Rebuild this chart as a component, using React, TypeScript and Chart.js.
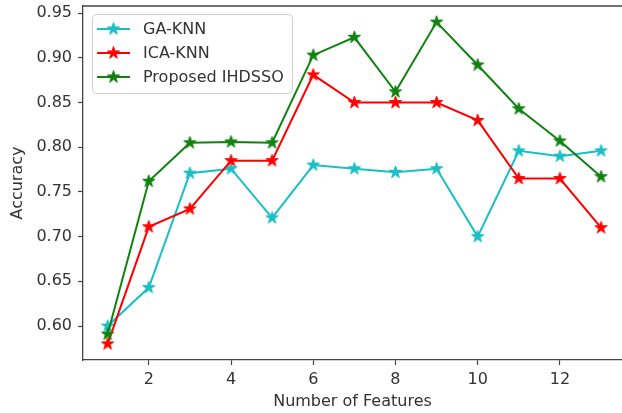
import React, { useEffect, useRef } from 'react';
import { Chart, registerables } from 'chart.js';

Chart.register(...registerables);

const features = [1, 2, 3, 4, 5, 6, 7, 8, 9, 10, 11, 12, 13];
const gaKnn = [0.600, 0.643, 0.771, 0.776, 0.721, 0.780, 0.776, 0.772, 0.776, 0.700, 0.796, 0.790, 0.796];
const icaKnn = [0.580, 0.711, 0.731, 0.785, 0.785, 0.881, 0.850, 0.850, 0.850, 0.830, 0.765, 0.765, 0.710];
const ihdsso = [0.591, 0.762, 0.805, 0.806, 0.805, 0.903, 0.923, 0.862, 0.940, 0.892, 0.843, 0.807, 0.767];
const seriesNames = ['GA-KNN', 'ICA-KNN', 'Proposed IHDSSO'];
const seriesColors = ['#19bfc4', '#ff0000', '#0f820f'];
const xTicks = [2, 4, 6, 8, 10, 12];
const yTicks = [0.60, 0.65, 0.70, 0.75, 0.80, 0.85, 0.90, 0.95];
const xTitle = 'Number of Features';
const yTitle = 'Accuracy';

const FONT = "'DejaVu Sans', sans-serif";
const TEXT = '#333333';
const SPINE = '#444444';

function makeStar(color: string): HTMLCanvasElement {
  const s = 15;
  const c = document.createElement('canvas');
  c.width = s;
  c.height = s;
  const ctx = c.getContext('2d')!;
  const cx = s / 2, cy = s / 2;
  const R = 6.5, r = R * 0.382;
  ctx.beginPath();
  for (let i = 0; i < 10; i++) {
    const ang = -Math.PI / 2 + (i * Math.PI) / 5;
    const rad = i % 2 === 0 ? R : r;
    ctx.lineTo(cx + rad * Math.cos(ang), cy + rad * Math.sin(ang));
  }
  ctx.closePath();
  ctx.fillStyle = color;
  ctx.fill();
  ctx.strokeStyle = color;
  ctx.lineWidth = 1;
  ctx.stroke();
  return c;
}

export default function App() {
  const ref = useRef<HTMLCanvasElement | null>(null);

  useEffect(() => {
    if (!ref.current) return;
    const stars = seriesColors.map(makeStar);
    const series = [gaKnn, icaKnn, ihdsso];

    const framePlugin = {
      id: 'frameLegend',
      afterDraw(chart: any) {
        const { ctx, chartArea: a } = chart;
        ctx.save();
        ctx.strokeStyle = SPINE;
        ctx.lineWidth = 1.3;
        ctx.beginPath();
        ctx.moveTo(a.left, a.top);
        ctx.lineTo(a.right, a.top);
        ctx.stroke();

        const lx = a.left + 9, ly = a.top + 8, lw = 200, lh = 79;
        ctx.beginPath();
        (ctx as any).roundRect(lx + 0.5, ly + 0.5, lw, lh, 4);
        ctx.fillStyle = 'rgba(255,255,255,0.85)';
        ctx.fill();
        ctx.strokeStyle = '#d0d0d0';
        ctx.lineWidth = 1;
        ctx.stroke();

        ctx.font = `16px ${FONT}`;
        ctx.textBaseline = 'middle';
        ctx.textAlign = 'left';
        seriesNames.forEach((name, i) => {
          const ry = ly + 15 + i * 24;
          ctx.strokeStyle = seriesColors[i];
          ctx.lineWidth = 2;
          ctx.beginPath();
          ctx.moveTo(lx + 5, ry);
          ctx.lineTo(lx + 38, ry);
          ctx.stroke();
          const st = stars[i];
          ctx.drawImage(st, lx + 21.5 - st.width / 2, ry - st.height / 2);
          ctx.fillStyle = TEXT;
          ctx.fillText(name, lx + 51, ry + 1);
        });
        ctx.restore();
      },
    };

    const chart = new Chart(ref.current, {
      type: 'line',
      data: {
        datasets: series.map((vals, i) => ({
          label: seriesNames[i],
          data: features.map((x, j) => ({ x, y: vals[j] })),
          borderColor: seriesColors[i],
          backgroundColor: seriesColors[i],
          borderWidth: 2,
          pointStyle: stars[i] as any,
          pointRadius: 6,
          fill: false,
          tension: 0,
          order: 2 - i,
        })),
      },
      options: {
        animation: false,
        responsive: false,
        devicePixelRatio: 1,
        layout: { autoPadding: false, padding: { top: 6, right: 0, bottom: 0, left: 0 } },
        plugins: {
          legend: { display: false },
          tooltip: { enabled: false },
        },
        scales: {
          x: {
            type: 'linear',
            min: 0.4,
            max: 13.51,
            afterBuildTicks: (s: any) => {
              s.ticks = xTicks.map((v) => ({ value: v }));
            },
            afterFit: (s: any) => {
              s.height = 53;
              s.paddingLeft = 0;
              s.paddingRight = 0;
            },
            grid: { drawOnChartArea: false, drawTicks: true, tickLength: 5, tickColor: SPINE, tickWidth: 1.2 },
            border: { display: true, color: SPINE, width: 1.3 },
            ticks: {
              font: { family: FONT, size: 16 },
              color: TEXT,
              padding: 5,
              maxRotation: 0,
              autoSkip: false,
              callback: (v: any) => String(v),
            },
            title: {
              display: true,
              text: xTitle,
              font: { family: FONT, size: 16 },
              color: TEXT,
              padding: { top: 0, bottom: 2 },
            },
          },
          y: {
            type: 'linear',
            min: 0.562,
            max: 0.958,
            afterBuildTicks: (s: any) => {
              s.ticks = yTicks.map((v) => ({ value: v }));
            },
            afterFit: (s: any) => {
              s.width = 83;
              s.paddingTop = 0;
              s.paddingBottom = 0;
            },
            grid: { drawOnChartArea: false, drawTicks: true, tickLength: 5, tickColor: SPINE, tickWidth: 1.2 },
            border: { display: true, color: SPINE, width: 1.3 },
            ticks: {
              font: { family: FONT, size: 16 },
              color: TEXT,
              padding: 6,
              autoSkip: false,
              callback: (v: any) => Number(v).toFixed(2),
            },
            title: {
              display: true,
              text: yTitle,
              font: { family: FONT, size: 16 },
              color: TEXT,
              padding: { top: 8, bottom: 0 },
            },
          },
        },
      } as any,
      plugins: [framePlugin],
    });

    return () => chart.destroy();
  }, []);

  return (
    <div style={{ position: 'absolute', left: 0, top: 0, width: 622, height: 413 }}>
      <canvas ref={ref} width={622} height={413} />
    </div>
  );
}
